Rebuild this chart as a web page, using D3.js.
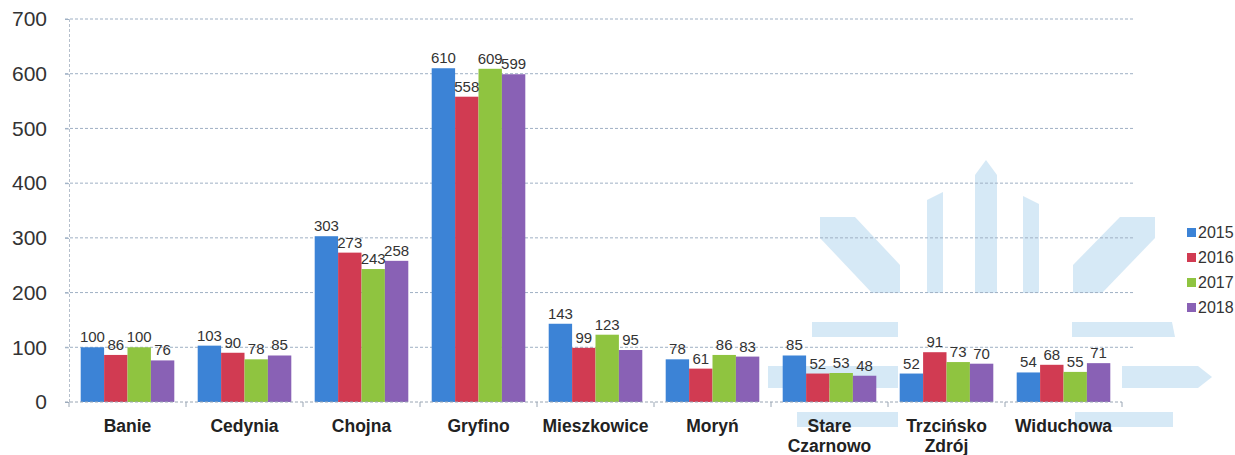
<!DOCTYPE html>
<html>
<head>
<meta charset="utf-8">
<title>Gminy 2015-2018</title>
<script src="https://cdnjs.cloudflare.com/ajax/libs/d3/7.8.5/d3.min.js"></script>
<style>
  body { margin: 0; background: #fff; }
  svg { font-family: "Liberation Sans", Arial, sans-serif; }
</style>
</head>
<body>
<div id="chart"></div>
<script>
// data
var categories = ["Banie", "Cedynia", "Chojna", "Gryfino", "Mieszkowice", "Moryń", "Stare\nCzarnowo", "Trzcińsko\nZdrój", "Widuchowa"];
var years = ["2015", "2016", "2017", "2018"];
var v2015 = [100, 103, 303, 610, 143, 78, 85, 52, 54];
var v2016 = [86, 90, 273, 558, 99, 61, 52, 91, 68];
var v2017 = [100, 78, 243, 609, 123, 86, 53, 73, 55];
var v2018 = [76, 85, 258, 599, 95, 83, 48, 70, 71];
var yTicks = [0, 100, 200, 300, 400, 500, 600, 700];

var series = [v2015, v2016, v2017, v2018];
var colors = ["#3c83d6", "#d13b52", "#8fc440", "#8961b5"];

var W = 1235, H = 455;
var plotL = 69, plotR = 1122, plotT = 19, plotB = 402;

var svg = d3.select("#chart").append("svg").attr("width", W).attr("height", H);

/* light watermark logo behind the chart (decoration only) */
var wm = svg.append("g").attr("fill", "#d6e9f6");
[
  "M975,175 L986,160 L997,175 L997,293 L975,293 Z",
  "M927,200 L943,192 L943,293 L927,293 Z",
  "M1023,196 L1039,204 L1039,293 L1023,293 Z",
  "M820,217 L855,217 L900,265 L900,293 L872,293 L820,238 Z",
  "M1155,217 L1120,217 L1073,265 L1073,293 L1102,293 L1155,238 Z",
  "M812,322 L898,322 L898,337 L812,337 Z",
  "M1072,322 L1172,322 L1175,337 L1072,337 Z",
  "M768,366 L898,366 L898,388 L768,388 Z",
  "M1122,366 L1198,366 L1212,377 L1198,388 L1122,388 Z",
  "M797,412 L898,412 L898,427 L797,427 Z",
  "M1075,412 L1173,412 L1173,427 L1075,427 Z"
].forEach(function(d) { wm.append("path").attr("d", d); });

var x0 = d3.scaleBand().domain(d3.range(categories.length)).range([plotL, plotR])
  .paddingInner(0.2).paddingOuter(0.1);
var x1 = d3.scaleBand().domain(d3.range(years.length)).range([0, x0.bandwidth()]);
var y = d3.scaleLinear().domain([0, 700]).range([plotB, plotT]);

// gridlines
svg.append("g").selectAll("line").data(yTicks.filter(function(t) { return t > 0; }))
  .enter().append("line")
  .attr("x1", plotL - 4).attr("x2", plotR + 12)
  .attr("y1", function(d) { return y(d); }).attr("y2", function(d) { return y(d); })
  .attr("stroke", "#9fb0c4").attr("stroke-width", 1).attr("stroke-dasharray", "3,2");

// y axis
var yAxis = svg.append("g").attr("transform", "translate(" + plotL + ",0)")
  .call(d3.axisLeft(y).tickValues(yTicks).tickSize(4).tickPadding(18));
yAxis.select(".domain").attr("stroke", "#b5bfcc").attr("stroke-dasharray", "3,2");
yAxis.selectAll(".tick line").attr("stroke", "#9fb0c4");
yAxis.selectAll("text").attr("font-size", 21).attr("fill", "#333")
  .attr("font-family", "Liberation Sans, Arial, sans-serif");

// bars
var groups = svg.append("g").selectAll("g").data(categories).enter().append("g")
  .attr("transform", function(d, i) { return "translate(" + x0(i) + ",0)"; });

groups.selectAll("rect").data(function(d, i) { return series.map(function(s) { return s[i]; }); })
  .enter().append("rect")
  .attr("x", function(d, j) { return x1(j); })
  .attr("width", x1.bandwidth())
  .attr("y", function(d) { return y(d); })
  .attr("height", function(d) { return y(0) - y(d); })
  .attr("fill", function(d, j) { return colors[j]; });

groups.selectAll("text.val").data(function(d, i) { return series.map(function(s) { return s[i]; }); })
  .enter().append("text").attr("class", "val")
  .attr("x", function(d, j) { return x1(j) + x1.bandwidth() / 2; })
  .attr("y", function(d) { return y(d) - 5; })
  .attr("text-anchor", "middle").attr("font-size", 15).attr("fill", "#333")
  .text(function(d) { return d; });

// x axis
var xAxis = svg.append("g").attr("transform", "translate(0," + plotB + ")");
xAxis.append("line").attr("x1", plotL - 4).attr("x2", plotR)
  .attr("stroke", "#9aa6b4").attr("stroke-dasharray", "3,2");
xAxis.selectAll("line.tk").data(d3.range(categories.length + 1)).enter().append("line")
  .attr("class", "tk")
  .attr("x1", function(i) { return plotL + i * x0.step(); })
  .attr("x2", function(i) { return plotL + i * x0.step(); })
  .attr("y1", 0).attr("y2", 5).attr("stroke", "#9aa6b4");

xAxis.selectAll("text").data(categories).enter().append("text")
  .attr("x", function(d, i) { return x0(i) + x0.bandwidth() / 2; })
  .attr("y", 30)
  .attr("text-anchor", "middle").attr("font-size", 17.5).attr("font-weight", "bold").attr("fill", "#222")
  .each(function(d) {
    var t = d3.select(this);
    d.split("\n").forEach(function(part, k) {
      t.append("tspan").attr("x", t.attr("x")).attr("dy", k === 0 ? 0 : 20).text(part);
    });
  });

// legend
var legend = svg.append("g").attr("transform", "translate(1187,228)");
years.forEach(function(yr, j) {
  var g = legend.append("g").attr("transform", "translate(0," + (j * 25) + ")");
  g.append("rect").attr("width", 9).attr("height", 9).attr("y", 0).attr("fill", colors[j]);
  g.append("text").attr("x", 11).attr("y", 10).attr("font-size", 16).attr("fill", "#333").text(yr);
});
</script>
</body>
</html>
